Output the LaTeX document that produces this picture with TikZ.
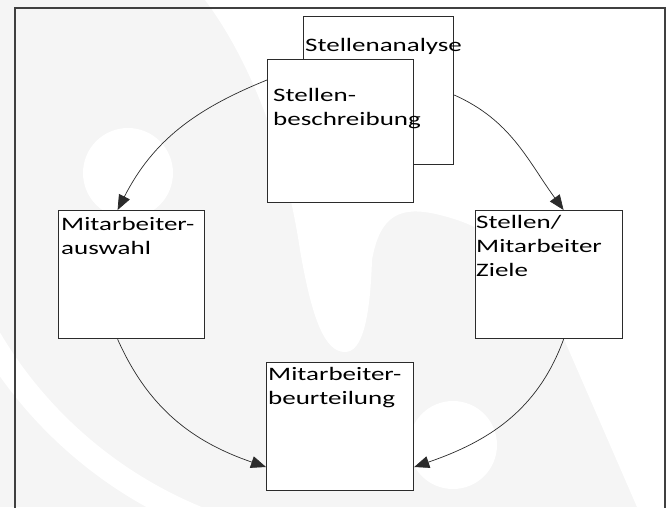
\documentclass[tikz,border=0pt]{standalone}
\usepackage{fontspec}
\setmainfont{Carlito}[FakeStretch=1.42]
\usetikzlibrary{arrows.meta}
\definecolor{bg}{HTML}{F5F5F5}
\definecolor{ink}{HTML}{2B2B2B}
\begin{document}
\begin{tikzpicture}[x=1pt,y=-1pt,
  box/.style={draw=ink, line width=1.2pt, fill=white, rectangle, inner sep=0pt, anchor=north west},
  txt/.style={anchor=base west, inner sep=0pt, text width=175pt, align=left,
              font=\fontsize{19}{24}\selectfont},
  conn/.style={draw=ink, line width=0.7pt, -{Triangle[length=15pt,width=12pt]}},
  wmshape/.style={fill=white}]
\useasboundingbox (0,0) rectangle (668,507);
\fill[bg] (0,0) rectangle (668,507);
% faint watermark
\fill[wmshape] (205,0) -- (668,0) -- (668,507) -- (637,507) -- (567,346)
  .. controls (530,260) and (500,230) .. (440,215)
  .. controls (400,205) and (380,215) .. (372,260)
  .. controls (370,320) and (362,352) .. (345,352)
  .. controls (325,352) and (312,320) .. (300,250)
  .. controls (285,150) and (250,60) .. (205,0) -- cycle;
\fill[wmshape] (128,173) circle (45);
\fill[wmshape] (453,445) circle (44);
\begin{scope}
  \clip (0,300) rectangle (250,507);
  \draw[white, line width=24pt] (360,120) circle (430);
\end{scope}
\draw[line width=2pt, draw=black!75] (15,8) rectangle (665,530);
% boxes
\node[box, minimum width=150pt, minimum height=148pt] (sa) at (303,16) {};
\node[box, minimum width=146pt, minimum height=143pt] (sb) at (267,59) {};
\node[box, minimum width=146pt, minimum height=128pt] (ma) at (58,210) {};
\node[box, minimum width=147pt, minimum height=128pt] (zi) at (475,210) {};
\node[box, minimum width=147pt, minimum height=128pt] (mb) at (266,362) {};
% texts
\node[txt] (sa-t) at (305,51) {Stellenanalyse};
\node[txt] (sb-t) at (273,101) {Stellen-\\beschreibung};
\node[txt] (ma-t) at (61,230) {Mitarbeiter-\\auswahl};
\node[txt] (zi-t) at (476,228) {Stellen/\\Mitarbeiter\\Ziele};
\node[txt] (mb-t) at (268,380) {Mitarbeiter-\\beurteilung};
% connectors
\draw[conn] ([yshift=-21pt]sb.north west) to[out=202,in=63] ([xshift=-14pt]ma.north);
\draw[conn] ([yshift=-79pt]sa.north east) to[out=336,in=126] ([xshift=14.5pt]zi.north);
\draw[conn] ([xshift=-14pt]ma.south) to[out=294,in=161] ([yshift=-105pt]mb.north west);
\draw[conn] ([xshift=14.5pt]zi.south) to[out=250,in=19] ([yshift=-105pt]mb.north east);
\end{tikzpicture}
\end{document}
